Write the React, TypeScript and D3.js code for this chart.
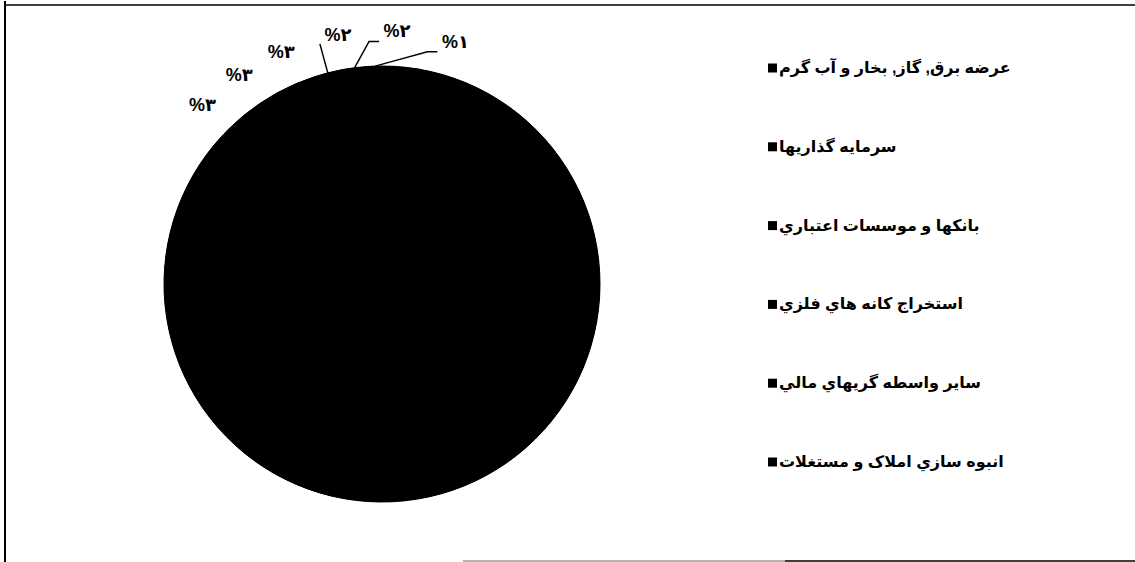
import React from 'react';
import * as d3 from 'd3';

// legend shows only the first six (the rest were cut off in the source chart)
const categories = [
  'عرضه برق, گاز, بخار و آب گرم',
  'سرمايه گذاريها',
  'بانکها و موسسات اعتباري',
  'استخراج کانه هاي فلزي',
  'ساير واسطه گريهاي مالي',
  'انبوه سازي املاک و مستغلات',
  'ساير',
];
const shares = [86, 3, 3, 3, 2, 2, 1];
const legendCount = 6;

const W = 1135, H = 562;
const cx = 382, cy = 284, R = 218;
const labelR = R + 36;
const minGap = 13.4; // degrees between pushed labels
const FONT = '"Liberation Sans", Arial, "DejaVu Sans", sans-serif';

const fa = (n: number) => String(n).replace(/\d/g, d => String.fromCharCode(0x06f0 + +d));
const deg = (a: number) => (a * 180) / Math.PI;
const rad = (a: number) => (a * Math.PI) / 180;

export default function App() {
  const data = categories.map((c, i) => ({ name: c, value: shares[i] }));
  const pie = d3.pie<any>().sort(null).value(d => d.value)(data);
  const arc = d3.arc<any>().innerRadius(0).outerRadius(R);

  // small slices get leader lines and their labels are pushed clockwise
  const mids = pie.map(p => deg((p.startAngle + p.endAngle) / 2) - 360);
  const small = pie.map(p => p.data.value < 2.5);
  const labelAng: number[] = [];
  let prev = -Infinity;
  pie.forEach((p, i) => {
    if (i === 0) { labelAng.push(NaN); return; }
    const a = small[i] ? Math.max(mids[i], prev + minGap) : mids[i];
    labelAng.push(a);
    prev = a;
  });

  const legendY = d3.scalePoint<string>()
    .domain(categories.slice(0, legendCount))
    .range([68, 462]);

  return (
    <svg width={W} height={H} style={{ position: 'absolute', left: 0, top: 0, background: '#fff' }}>
      {/* frame */}
      <line x1={5} y1={1} x2={5} y2={H} stroke="#000" strokeWidth={2} />
      <line x1={4} y1={5} x2={W} y2={5} stroke="#000" strokeWidth={1.3} />
      <line x1={463} y1={H - 1} x2={785} y2={H - 1} stroke="#999" strokeWidth={1.5} />
      <line x1={785} y1={H - 1} x2={W} y2={H - 1} stroke="#000" strokeWidth={1.5} />

      <g transform={`translate(${cx},${cy})`}>
        <circle r={R} fill="#000" />
        {pie.map((p, i) => (
          <path key={i} d={arc(p) as string} fill="#000" stroke="#000" strokeWidth={1} />
        ))}
        {pie.map((p, i) => {
          if (i === 0) {
            const [x, y] = arc.centroid(p);
            return (
              <text key={i} x={x} y={y} fill="#000" fontFamily={FONT} fontWeight="bold" fontSize={18} textAnchor="middle">
                {'%' + fa(p.data.value)}
              </text>
            );
          }
          const a = rad(labelAng[i]);
          const lx = labelR * Math.sin(a), ly = -labelR * Math.cos(a);
          const m = rad(mids[i]);
          const sx = R * Math.sin(m), sy = -R * Math.cos(m);
          const bx = lx - 15, by = ly + 9;
          let leader: string | null = null;
          if (small[i]) {
            leader = bx > sx + 5
              ? `M${sx},${sy}L${bx - 13},${by + 2}L${bx - 3},${by + 2}`
              : `M${sx},${sy}L${bx - 3},${by + 1}`;
          }
          return (
            <g key={i}>
              {leader && <path d={leader} fill="none" stroke="#000" strokeWidth={1.5} />}
              <text x={lx} y={ly + 7} textAnchor="middle" fontFamily={FONT} fontWeight="bold" fontSize={18} fill="#000">
                {'%' + fa(p.data.value)}
              </text>
            </g>
          );
        })}
      </g>

      {/* legend */}
      {categories.slice(0, legendCount).map(c => {
        const y = legendY(c) as number;
        return (
          <g key={c}>
            <rect x={768} y={y - 4.5} width={9} height={9} fill="#000" />
            <text x={779} y={y + 5} fontFamily={FONT} fontWeight="bold" fontSize={16}
              style={{ direction: 'rtl' }} textAnchor="end" fill="#000">
              {c}
            </text>
          </g>
        );
      })}
    </svg>
  );
}
